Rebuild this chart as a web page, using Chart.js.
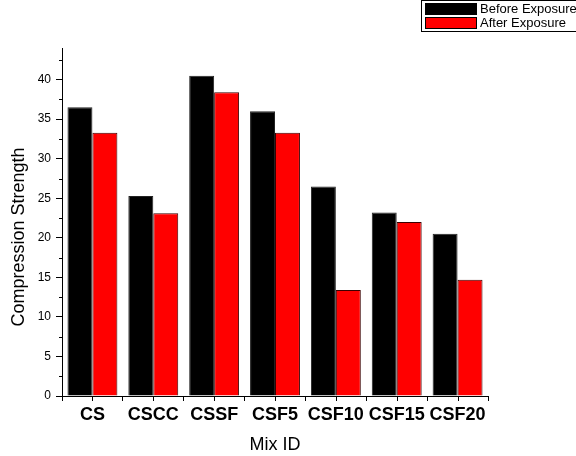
<!DOCTYPE html>
<html>
<head>
<meta charset="utf-8">
<script src="https://cdn.jsdelivr.net/npm/chart.js@4.4.1/dist/chart.umd.min.js"></script>
<style>
    html, body { margin: 0; padding: 0; background: #fff; }
    #wrap { width: 576px; height: 456px; position: relative; }
</style>
</head>
<body>
<div id="wrap"><canvas id="chart"></canvas></div>
<script>
// Mix IDs and compression strength before / after exposure
const mixIds = ['CS', 'CSCC', 'CSSF', 'CSF5', 'CSF10', 'CSF15', 'CSF20'];
const beforeExposure = [36.5, 25.3, 40.5, 36.0, 26.5, 23.2, 20.5];
const afterExposure = [33.3, 23.1, 38.4, 33.3, 13.4, 22.0, 14.7];
const yTicks = [0, 5, 10, 15, 20, 25, 30, 35, 40];

const FONT = 'Arial, "Liberation Sans", sans-serif';

// minor ticks (y) and category-centre ticks (x), drawn from the scales
const minorTicks = {
    id: 'minorTicks',
    afterDraw(chart) {
        const { ctx, scales: { x, y } } = chart;
        ctx.save();
        ctx.strokeStyle = '#000';
        ctx.lineWidth = 1;
        ctx.beginPath();
        for (let v = 2.5; v < y.max; v += 5) {
            const py = Math.round(y.getPixelForValue(v)) + 0.5;
            ctx.moveTo(y.right - 3, py);
            ctx.lineTo(y.right, py);
        }
        mixIds.forEach((_, i) => {
            const px = Math.round(x.getPixelForValue(i)) + 0.5;
            ctx.moveTo(px, x.top);
            ctx.lineTo(px, x.top + 5);
        });
        ctx.stroke();
        ctx.restore();
    }
};

// y axis title, Origin puts it a little below the plot centre
const yTitle = {
    id: 'yTitle',
    afterDraw(chart) {
        const { ctx } = chart;
        ctx.save();
        ctx.translate(19, 237);
        ctx.rotate(-Math.PI / 2);
        ctx.font = '18px ' + FONT;
        ctx.fillStyle = '#000';
        ctx.textAlign = 'center';
        ctx.textBaseline = 'middle';
        ctx.fillText('Compression Strength', 0, 0);
        ctx.restore();
    }
};

// legend box in the top right corner
const boxLegend = {
    id: 'boxLegend',
    afterDraw(chart) {
        const { ctx } = chart;
        const left = 421, top = 0, w = 155, h = 31;
        ctx.save();
        ctx.strokeStyle = '#000';
        ctx.lineWidth = 1;
        ctx.strokeRect(left + 0.5, top + 0.5, w, h);
        ctx.font = '13px ' + FONT;
        ctx.textBaseline = 'middle';
        chart.data.datasets.forEach((ds, i) => {
            const sy = top + 3 + i * 14;
            ctx.fillStyle = ds.backgroundColor;
            ctx.fillRect(left + 4, sy, 52, 12);
            ctx.strokeStyle = '#000';
            ctx.strokeRect(left + 4.5, sy + 0.5, 51, 11);
            ctx.fillStyle = '#000';
            ctx.fillText(ds.label, left + 59, sy + 6.5);
        });
        ctx.restore();
    }
};

new Chart(document.getElementById('chart'), {
    type: 'bar',
    data: {
        labels: mixIds,
        datasets: [{
            label: 'Before Exposure',
            data: beforeExposure,
            backgroundColor: '#000000',
            borderColor: '#222222',
            borderWidth: 1
        }, {
            label: 'After Exposure',
            data: afterExposure,
            backgroundColor: '#ff0000',
            borderColor: '#3a0000',
            borderWidth: 1
        }]
    },
    options: {
        responsive: true,
        maintainAspectRatio: false,
        animation: false,
        categoryPercentage: 0.82,
        barPercentage: 1.0,
        layout: { padding: { left: 0, right: 88, top: 48, bottom: 0 } },
        plugins: {
            legend: { display: false },
            tooltip: { enabled: false }
        },
        scales: {
            x: {
                afterFit: (scale) => { scale.height = 60; },
                grid: { display: true, offset: true, drawOnChartArea: false, drawTicks: true, tickLength: 5, color: '#000' },
                border: { display: true, color: '#000', width: 1 },
                ticks: { color: '#000', padding: 3, font: { family: FONT, size: 18, weight: 'bold' }, maxRotation: 0, autoSkip: false },
                title: { display: true, text: 'Mix ID', color: '#000', padding: { top: 0, bottom: 0 }, font: { family: FONT, size: 18 } }
            },
            y: {
                min: 0,
                max: 44,
                afterFit: (scale) => { scale.width = 62; },
                afterBuildTicks: (scale) => { scale.ticks = yTicks.map(v => ({ value: v })); },
                grid: { display: true, drawOnChartArea: false, drawTicks: true, tickLength: 6, color: '#000' },
                border: { display: true, color: '#000', width: 1 },
                ticks: { color: '#000', padding: 5, font: { family: FONT, size: 12 } },
                title: { display: false }
            }
        }
    },
    plugins: [minorTicks, yTitle, boxLegend]
});
</script>
</body>
</html>
